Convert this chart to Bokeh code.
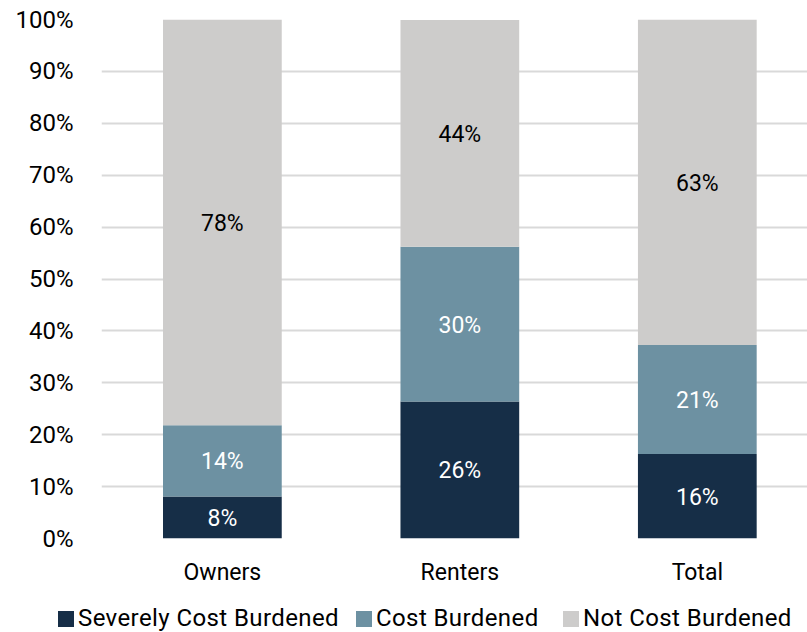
from bokeh.plotting import figure
from bokeh.layouts import column
from bokeh.models import (ColumnDataSource, Range1d, FixedTicker, PrintfTickFormatter,
                          LabelSet, Div)
from bokeh.core.properties import value
from bokeh.embed import file_html
from bokeh.resources import INLINE

categories = ["Owners", "Renters", "Total"]
severely = [8.1, 26.4, 16.3]
burdened = [13.7, 29.8, 21.0]
not_burdened = [78.2, 43.7, 62.7]
series_names = ["Severely Cost Burdened", "Cost Burdened", "Not Cost Burdened"]
colors = ["#162e47", "#6d91a2", "#cdcccb"]
label_colors = ["white", "white", "black"]

FONT = "Roboto"

xs = list(range(len(categories)))
data = {"x": xs, "s": severely, "b": burdened, "n": not_burdened}
src = ColumnDataSource(data)

p = figure(frame_width=706, frame_height=519, x_range=Range1d(-0.509, 2.464), y_range=Range1d(0, 100),
           output_backend="svg", toolbar_location=None,
           min_border_left=101, min_border_right=0, min_border_top=19, min_border_bottom=60)
p.outline_line_color = None

renderers = p.vbar_stack(["s", "b", "n"], x="x", width=0.5, color=colors, line_color=None,
                         source=src)

# labels
stacks = [severely, burdened, not_burdened]
base = [0.0] * len(categories)
for vals, col in zip(stacks, label_colors):
    mids = [b + v / 2 for b, v in zip(base, vals)]
    txt = [f"{v:.0f}%" for v in vals]
    lsrc = ColumnDataSource(dict(x=xs, y=mids, t=txt))
    p.add_layout(LabelSet(x="x", y="y", text="t", source=lsrc, text_align="center",
                          text_baseline="middle", text_color=col, text_font=value(FONT),
                          text_font_size="23px", y_offset=-1))
    base = [b + v for b, v in zip(base, vals)]

# axes
p.xaxis.ticker = FixedTicker(ticks=xs)
p.xaxis.major_label_overrides = {i: c for i, c in enumerate(categories)}
p.xaxis.major_tick_line_color = None
p.xaxis.minor_tick_line_color = None
p.xaxis.axis_line_color = None
p.xaxis.major_label_text_font = FONT
p.xaxis.major_label_text_font_size = "23px"
p.xaxis.major_label_text_color = "black"
p.xaxis.major_label_standoff = 14
p.xgrid.grid_line_color = None

p.yaxis.ticker = FixedTicker(ticks=list(range(0, 101, 10)))
p.yaxis.formatter = PrintfTickFormatter(format="%d%%")
p.yaxis.major_tick_line_color = None
p.yaxis.minor_tick_line_color = None
p.yaxis.axis_line_color = None
p.yaxis.major_label_text_font = FONT
p.yaxis.major_label_text_font_size = "24px"
p.yaxis.major_label_text_color = "black"
p.yaxis.major_label_standoff = 22
p.ygrid.grid_line_color = "#d9d9d9"
p.ygrid.grid_line_width = 2

# legend strip below the chart
item_left = [58, 356, 563]
items_html = "".join(
    f'<div style="position:absolute;left:{x}px;top:7px;white-space:nowrap;">'
    f'<span style="display:inline-block;width:16px;height:16px;background:{c};'
    f'vertical-align:-1px;margin-right:4px;"></span>{n}</div>'
    for x, c, n in zip(item_left, colors, series_names)
)
legend_div = Div(
    text=f'<div style="position:relative;width:807px;height:34px;font-family:{FONT};'
         f'font-size:24px;line-height:26px;color:black;letter-spacing:0.4px;">{items_html}</div>',
    width=807, height=34, margin=0)

layout = column(p, legend_div, spacing=0)
open("out.html", "w").write(file_html(layout, INLINE))
